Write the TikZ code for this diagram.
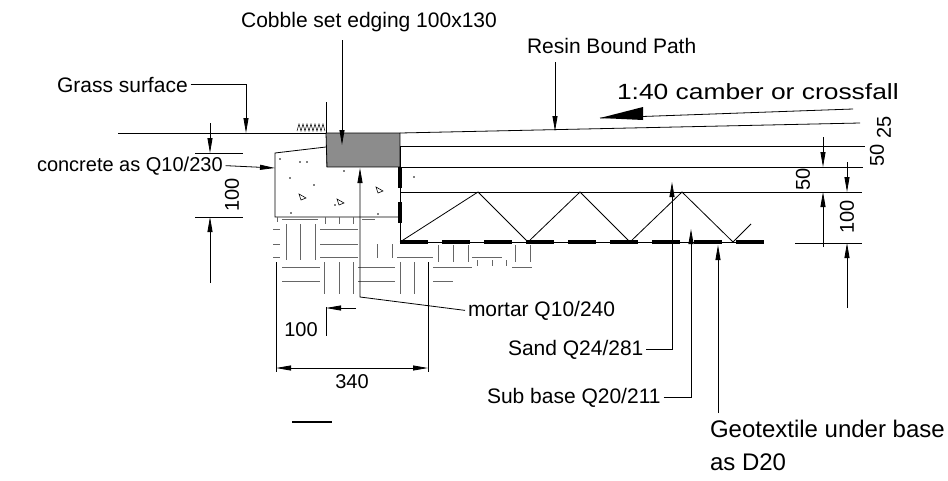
\documentclass[tikz,border=0pt]{standalone}
\usepackage{fontspec}
\setmainfont{Liberation Sans}
\newfontfamily\widesans[FakeStretch=1.2]{Liberation Sans}
\usetikzlibrary{arrows.meta}
\tikzset{
  lbl/.style={font=\fontsize{21}{25}\selectfont, inner sep=0pt, outer sep=3pt, anchor=base west},
  num/.style={font=\fontsize{20}{22}\selectfont, inner sep=0pt},
  hatch/.style={draw=black!60, line width=0.7pt},
  geo/.style={line width=4pt, dash pattern=on 28pt off 14pt},
}
\begin{document}
\begin{tikzpicture}[x=1pt, y=-1pt, line width=0.8pt, >={Stealth[length=15pt,width=5pt,inset=0pt]}]
\useasboundingbox (0,0) rectangle (948,480);
% cobble edging and concrete haunch
\fill[black!45] (326,133) rectangle (400,167);
\draw (326,133) -- (400,133) -- (400,167) -- (327,167) -- cycle;
\draw (326,147) -- (275,153) -- (275,217) -- (400,217);
\foreach \p in {(280,159),(300,162),(307,162),(290,178),(344,171),(314,185),(291,213),(335,205),(378,214),(414,177)}
  \fill \p circle (0.9);
\foreach \p in {(299,194),(337,199),(376,187)}
  \draw[line width=0.6pt] \p -- ++(2,6) -- ++(5,-2) -- cycle;
% ground and path layers
\draw (118,133) -- (326,133);
\draw (326,102) -- (326,133);
\draw[line width=0.5pt] (297,131) \foreach \i in {1,...,7} {-- ++(2,-7) -- ++(2,7)};
\draw (400,133) -- (860,123);
\draw (400,146) -- (865,146);
\draw (400,167) -- (863,167);
\draw (400,192) -- (862,192);
\draw (400,146) -- (400,242);
\draw[line width=4pt, dash pattern=on 21pt off 14pt] (400,167) -- (400,232);
\draw (400,242) -- (478,192) -- (528,242) -- (580,192) -- (630,242) -- (682,192) -- (733,242) -- (751,224);
\draw (400,242) -- (763,242);
\draw[geo] (400,242) -- (764,242);
% mortar bed
\begin{scope}[hatch]
  \draw (277,217) -- (277,222); \draw (282,219) -- (318,219);
  \foreach \x in {325,339,353} \draw (\x,217) -- (\x,224);
  \draw (362,219) -- (375,219);
  \foreach \x in {286,300,315} \draw (\x,224) -- (\x,260);
  \foreach \y in {229,244,257} {\draw (320,\y) -- (358,\y); \draw (273,\y) -- (280,\y);}
  \foreach \x in {377,392} \draw (\x,244) -- (\x,258);
  \draw (397,257) -- (433,257);
  \foreach \x in {438,453,468,515,530} \draw (\x,245) -- (\x,262);
  \draw (472,257) -- (502,257);
  \foreach \x in {477,492,506} \draw (\x,260) -- (\x,266);
  \draw (512,267) -- (532,267);
  \foreach \y in {267,281} {\draw (282,\y) -- (320,\y); \draw (358,\y) -- (395,\y);}
  \foreach \x in {324,339,353,400,414} \draw (\x,262) -- (\x,294);
  \draw (433,267) -- (472,267); \draw (433,281) -- (453,281);
\end{scope}
% labels
\node[lbl, anchor=base] (cobble) at (369,27) {Cobble set edging 100x130};
\node[lbl] (resin) at (524,53) {Resin Bound Path};
\node[lbl] (grass) at (54,92) {Grass surface};
\node[lbl, font=\fontsize{20}{24}\selectfont] (conc) at (34,171) {concrete as Q10/230};
\node[lbl, font=\widesans\fontsize{22}{26}\selectfont] (camber) at (614,99) {1:40 camber or crossfall};
\node[lbl] (mortar) at (465,316) {mortar Q10/240};
\node[lbl] (sand) at (505,355) {Sand Q24/281};
\node[lbl] (subb) at (484,403) {Sub base Q20/211};
\node[lbl, font=\fontsize{24}{28}\selectfont] (geoa) at (707,437) {Geotextile under base};
\node[lbl, font=\fontsize{24}{28}\selectfont] (geob) at (707,470) {as D20};
% leaders
\coordinate (cobtop) at (342,40);
\coordinate (cobpt) at (342,145);
\coordinate (restop) at (555,62);
\coordinate (respt) at (555,131);
\coordinate (grasspt) at (246,133);
\coordinate (concpt) at (275,168);
\coordinate (mortbend) at (360,297);
\coordinate (mortpt) at (360,168);
\coordinate (sandpt) at (672,182);
\coordinate (subpt) at (691,229);
\coordinate (geotop) at (718,245);
\coordinate (geobot) at (718,413);
\draw[->] (cobtop) -- (cobpt);
\draw[->] (restop) -- (respt);
\draw[->] (grass.east) -| (grasspt);
\draw[->] (conc.east) -- (concpt);
\draw[->] (mortar.west) -- (mortbend) -- (mortpt);
\draw[->] (sand.east) -| (sandpt);
\draw[->] (subb.east) -| (subpt);
\draw[->] (geobot) -- (geotop);
% camber arrow
\coordinate (camend) at (853,109);
\coordinate (camtip) at (600,118);
\draw (camend) -- (camtip);
\fill (camtip) -- (643,107) -- (643,120) -- cycle;
% dimensions left
\draw (195,153) -- (243,153);
\draw (195,217) -- (243,217);
\draw[->] (210,123) -- (210,153);
\draw[->] (210,283) -- (210,217);
\node[num, rotate=90] (dleft) at (232,195) {100};
% dimensions bottom
\draw (276,262) -- (276,372);
\draw (428,262) -- (428,372);
\draw[<->] (276,368) -- (428,368);
\node[num] (dwide) at (352,382) {340};
\draw (326,307) -- (326,336);
\draw[->] (356,308) -- (326,308);
\node[num] (dnarrow) at (301,330) {100};
\draw[line width=1.5pt] (292,422) -- (332,422);
% dimensions right
\draw[->] (823,137) -- (823,167);
\draw[->] (823,247) -- (823,192);
\draw[->] (847,162) -- (847,192);
\draw[->] (847,308) -- (847,243);
\draw (795,243) -- (862,243);
\node[num, rotate=90] (dsand) at (803,179) {50};
\node[num, rotate=90] (dsub) at (847,217) {100};
\node[num, rotate=90] (dtop) at (884,127) {25};
\node[num, rotate=90] (dbind) at (877,155) {50};
\end{tikzpicture}
\end{document}
